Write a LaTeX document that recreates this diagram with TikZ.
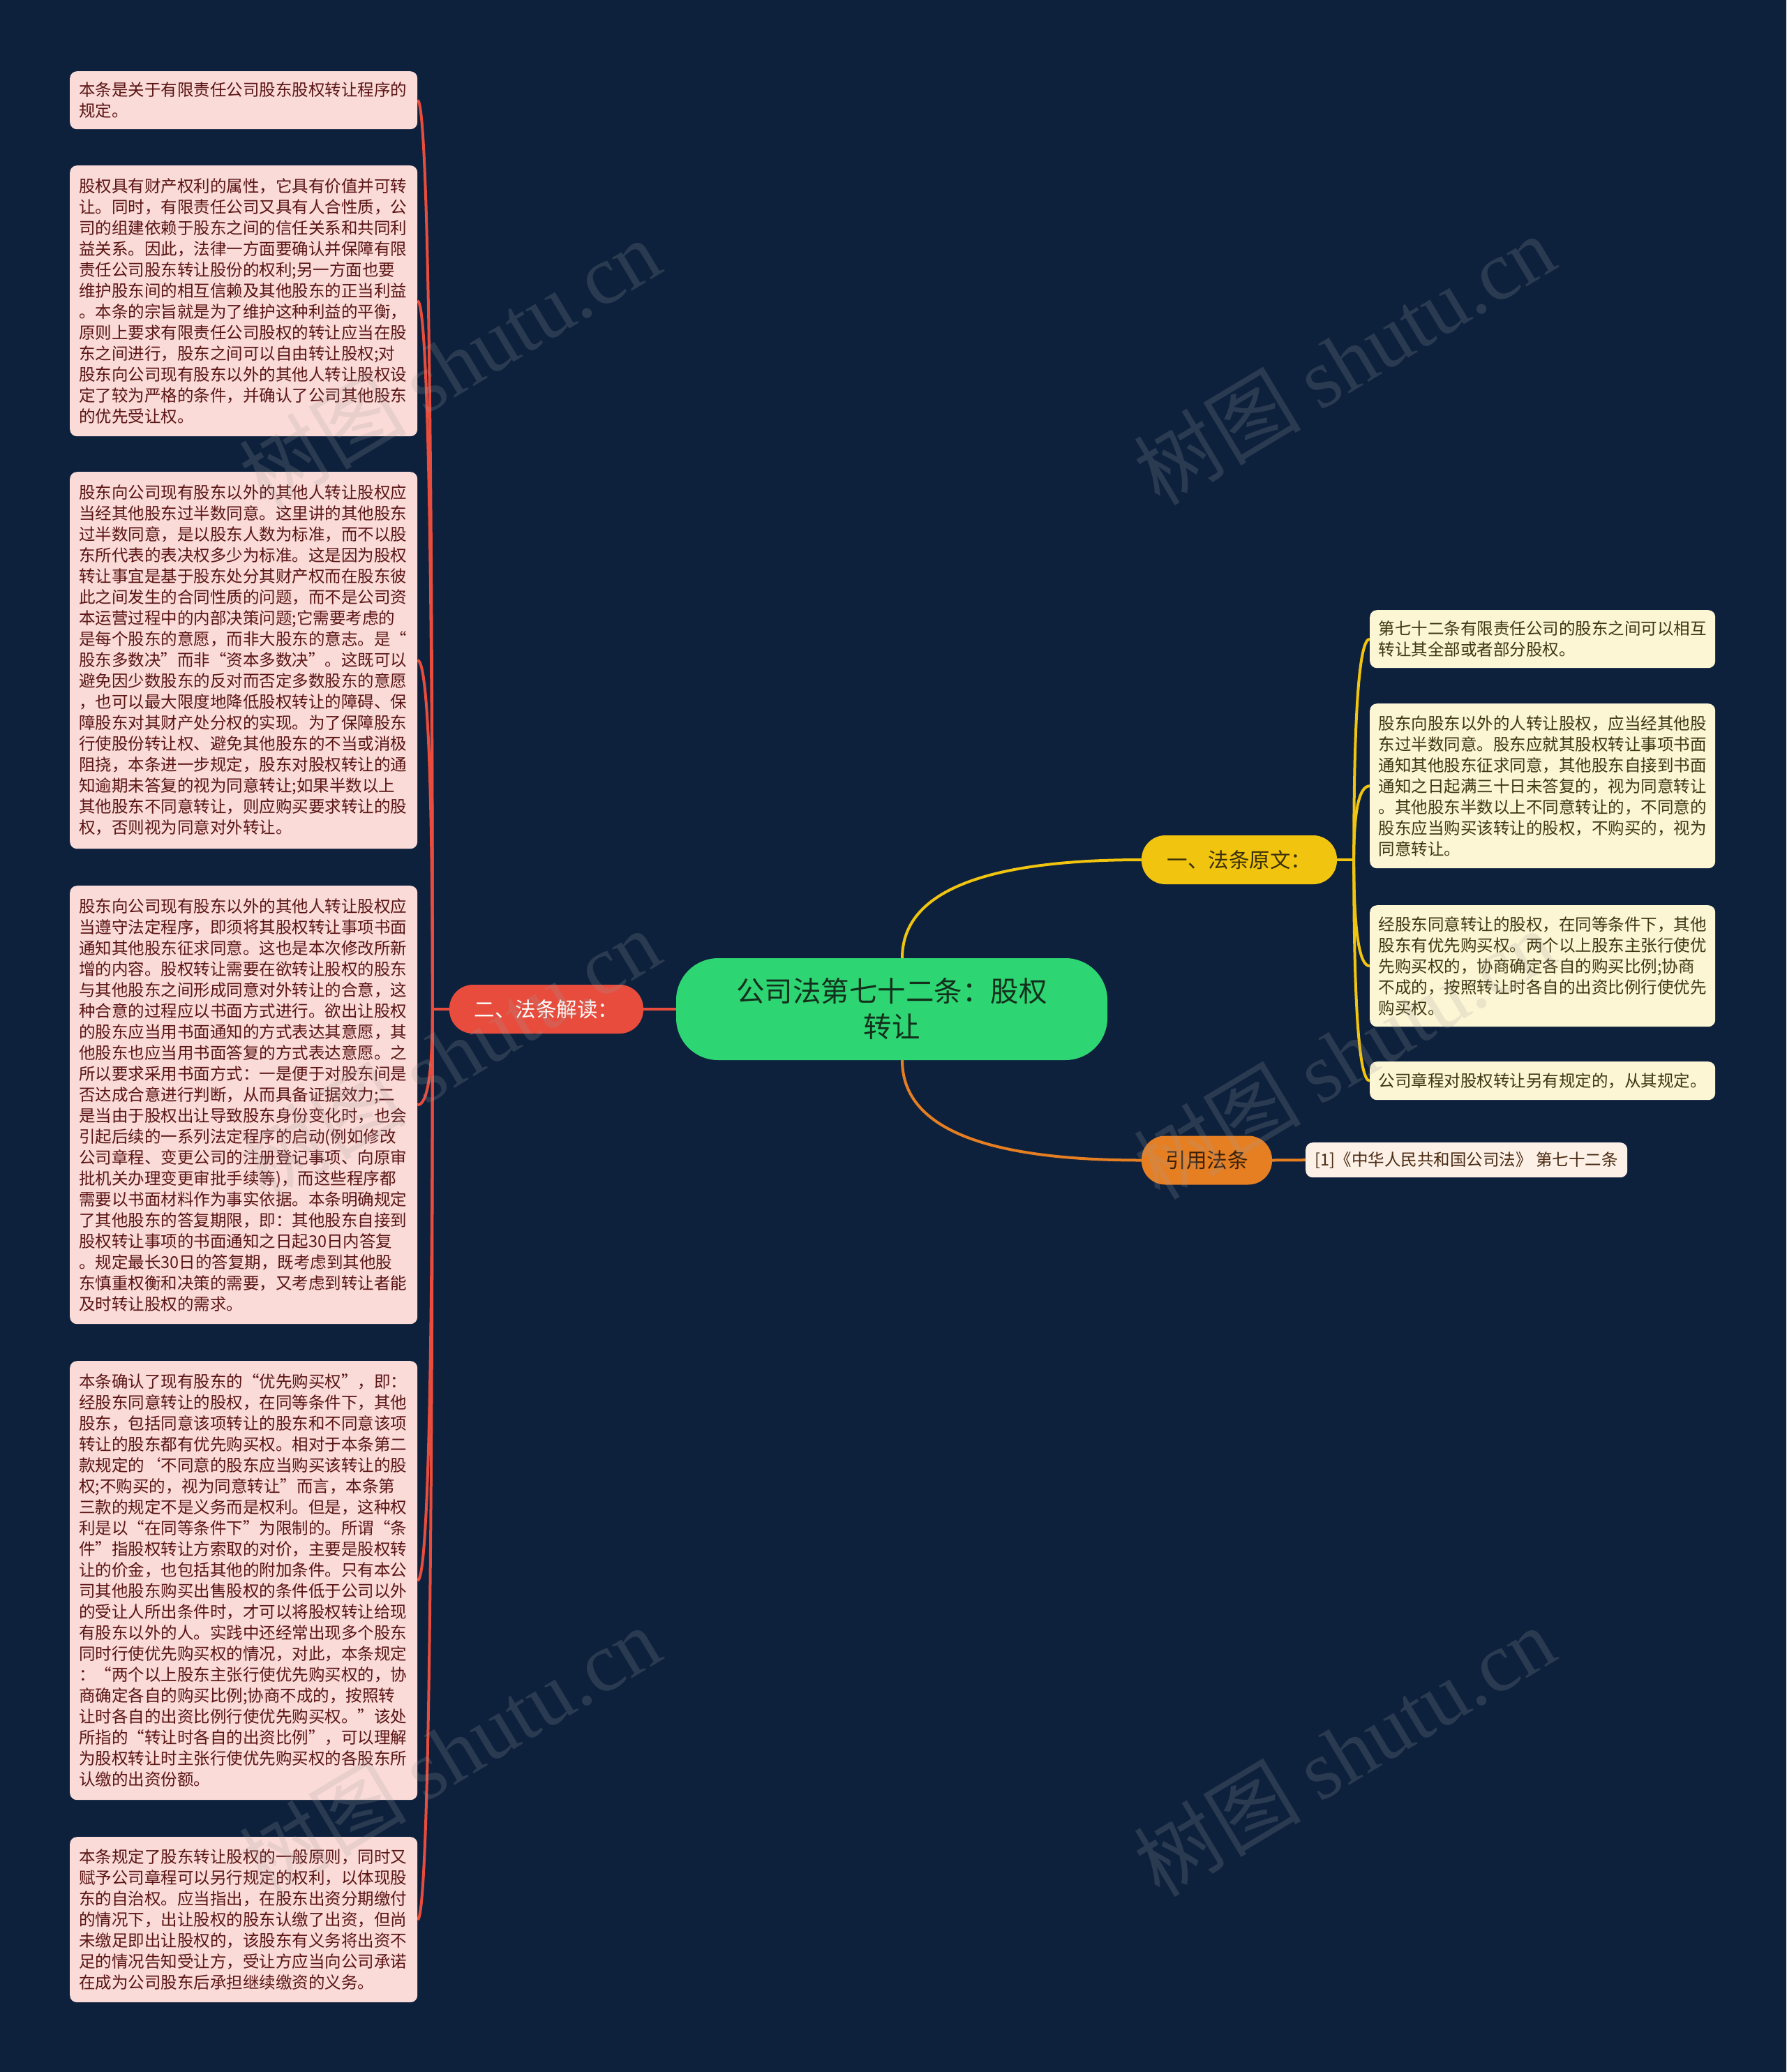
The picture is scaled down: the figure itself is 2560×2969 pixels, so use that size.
\documentclass[tikz,border=0pt]{standalone}
\usepackage{fontspec}
\setmainfont{Noto Sans CJK SC}
\newfontfamily\wmlatin{Liberation Serif}
\usetikzlibrary{calc}
\definecolor{bgc}{HTML}{0D213D}
\definecolor{lpink}{HTML}{FADBD8}
\definecolor{ltext}{HTML}{5A1414}
\definecolor{rcream}{HTML}{FDF6D5}
\definecolor{rtext}{HTML}{3E3712}
\definecolor{cpeach}{HTML}{FDF0E6}
\definecolor{ctxt}{HTML}{4A2A12}
\definecolor{cgreen}{HTML}{2ED573}
\definecolor{gtext}{HTML}{12301C}
\definecolor{cred}{HTML}{E74C3C}
\definecolor{cyellow}{HTML}{F1C40F}
\definecolor{ytext}{HTML}{3A3008}
\definecolor{corange}{HTML}{E67E22}
\definecolor{otext}{HTML}{3A2008}
\definecolor{wmgray}{HTML}{A0A0A0}
\pgfdeclarelayer{back}
\pgfsetlayers{back,main}
\tikzset{
  leafL/.style={fill=lpink, rounded corners=10pt, text=ltext, inner xsep=13pt, inner ysep=0pt,
    text width=472pt, align=left, anchor=north west, font=\fontsize{23.5}{30}\selectfont},
  leafR/.style={fill=rcream, rounded corners=10pt, text=rtext, inner xsep=12.5pt, inner ysep=0pt,
    text width=470pt, align=left, anchor=north west, font=\fontsize{23.5}{30}\selectfont},
  citebox/.style={fill=cpeach, rounded corners=10pt, text=ctxt, inner xsep=12pt, inner ysep=0pt,
    minimum width=461pt, minimum height=50pt, anchor=north west, font=\fontsize{23.5}{30}\selectfont},
  branch/.style={rounded corners=34pt, inner sep=0pt, minimum height=70pt, font=\fontsize{29.5}{34}\selectfont},
  rootbox/.style={fill=cgreen, rounded corners=60pt, minimum width=618pt, minimum height=146pt,
    inner sep=0pt, align=center, text=gtext, font=\fontsize{40.5}{51}\selectfont},
  redline/.style={draw=cred, line width=4pt},
  yline/.style={draw=cyellow, line width=4pt},
  oline/.style={draw=corange, line width=4pt},
  wm/.style={text=wmgray, text opacity=0.2, rotate=31, font=\fontsize{120}{120}\selectfont},
}
\begin{document}
\begin{tikzpicture}[x=1pt,y=-1pt]
\useasboundingbox (0,0) rectangle (2560,2969);

% root and branches
\node[rootbox] (root) at (1278,1446) {公司法第七十二条：股权\\转让};
\node[branch, fill=cred, text=white, minimum width=278pt] (B2) at (783,1446) {二、法条解读：};
\node[branch, fill=cyellow, text=ytext, minimum width=280pt] (B1) at (1776,1232) {一、法条原文：};
\node[branch, fill=corange, text=otext, minimum width=187pt] (B3) at (1729.5,1662.5) {引用法条};

% left leaves
\node[leafL, minimum height=83pt] (L1) at (100,102) {本条是关于有限责任公司股东股权转让程序的\\规定。};
\node[leafL, minimum height=388pt] (L2) at (100,237) {股权具有财产权利的属性，它具有价值并可转\\让。同时，有限责任公司又具有人合性质，公\\司的组建依赖于股东之间的信任关系和共同利\\益关系。因此，法律一方面要确认并保障有限\\责任公司股东转让股份的权利;另一方面也要\\维护股东间的相互信赖及其他股东的正当利益\\。本条的宗旨就是为了维护这种利益的平衡，\\原则上要求有限责任公司股权的转让应当在股\\东之间进行，股东之间可以自由转让股权;对\\股东向公司现有股东以外的其他人转让股权设\\定了较为严格的条件，并确认了公司其他股东\\的优先受让权。};
\node[leafL, minimum height=540pt] (L3) at (100,676) {股东向公司现有股东以外的其他人转让股权应\\当经其他股东过半数同意。这里讲的其他股东\\过半数同意，是以股东人数为标准，而不以股\\东所代表的表决权多少为标准。这是因为股权\\转让事宜是基于股东处分其财产权而在股东彼\\此之间发生的合同性质的问题，而不是公司资\\本运营过程中的内部决策问题;它需要考虑的\\是每个股东的意愿，而非大股东的意志。是“\\股东多数决”而非“资本多数决”。这既可以\\避免因少数股东的反对而否定多数股东的意愿\\，也可以最大限度地降低股权转让的障碍、保\\障股东对其财产处分权的实现。为了保障股东\\行使股份转让权、避免其他股东的不当或消极\\阻挠，本条进一步规定，股东对股权转让的通\\知逾期未答复的视为同意转让;如果半数以上\\其他股东不同意转让，则应购买要求转让的股\\权，否则视为同意对外转让。};
\node[leafL, minimum height=628pt] (L4) at (100,1269) {股东向公司现有股东以外的其他人转让股权应\\当遵守法定程序，即须将其股权转让事项书面\\通知其他股东征求同意。这也是本次修改所新\\增的内容。股权转让需要在欲转让股权的股东\\与其他股东之间形成同意对外转让的合意，这\\种合意的过程应以书面方式进行。欲出让股权\\的股东应当用书面通知的方式表达其意愿，其\\他股东也应当用书面答复的方式表达意愿。之\\所以要求采用书面方式：一是便于对股东间是\\否达成合意进行判断，从而具备证据效力;二\\是当由于股权出让导致股东身份变化时，也会\\引起后续的一系列法定程序的启动(例如修改\\公司章程、变更公司的注册登记事项、向原审\\批机关办理变更审批手续等)，而这些程序都\\需要以书面材料作为事实依据。本条明确规定\\了其他股东的答复期限，即：其他股东自接到\\股权转让事项的书面通知之日起30日内答复\\。规定最长30日的答复期，既考虑到其他股\\东慎重权衡和决策的需要，又考虑到转让者能\\及时转让股权的需求。};
\node[leafL, minimum height=629pt] (L5) at (100,1950) {本条确认了现有股东的“优先购买权”，即：\\经股东同意转让的股权，在同等条件下，其他\\股东，包括同意该项转让的股东和不同意该项\\转让的股东都有优先购买权。相对于本条第二\\款规定的‘不同意的股东应当购买该转让的股\\权;不购买的，视为同意转让”而言，本条第\\三款的规定不是义务而是权利。但是，这种权\\利是以“在同等条件下”为限制的。所谓“条\\件”指股权转让方索取的对价，主要是股权转\\让的价金，也包括其他的附加条件。只有本公\\司其他股东购买出售股权的条件低于公司以外\\的受让人所出条件时，才可以将股权转让给现\\有股东以外的人。实践中还经常出现多个股东\\同时行使优先购买权的情况，对此，本条规定\\：“两个以上股东主张行使优先购买权的，协\\商确定各自的购买比例;协商不成的，按照转\\让时各自的出资比例行使优先购买权。”该处\\所指的“转让时各自的出资比例”，可以理解\\为股权转让时主张行使优先购买权的各股东所\\认缴的出资份额。};
\node[leafL, minimum height=237pt] (L6) at (100,2632) {本条规定了股东转让股权的一般原则，同时又\\赋予公司章程可以另行规定的权利，以体现股\\东的自治权。应当指出，在股东出资分期缴付\\的情况下，出让股权的股东认缴了出资，但尚\\未缴足即出让股权的，该股东有义务将出资不\\足的情况告知受让方，受让方应当向公司承诺\\在成为公司股东后承担继续缴资的义务。};

% right leaves
\node[leafR, minimum height=83pt] (R1) at (1963,874) {第七十二条有限责任公司的股东之间可以相互\\转让其全部或者部分股权。};
\node[leafR, minimum height=236pt] (R2) at (1963,1008) {股东向股东以外的人转让股权，应当经其他股\\东过半数同意。股东应就其股权转让事项书面\\通知其他股东征求同意，其他股东自接到书面\\通知之日起满三十日未答复的，视为同意转让\\。其他股东半数以上不同意转让的，不同意的\\股东应当购买该转让的股权，不购买的，视为\\同意转让。};
\node[leafR, minimum height=174pt] (R3) at (1963,1297) {经股东同意转让的股权，在同等条件下，其他\\股东有优先购买权。两个以上股东主张行使优\\先购买权的，协商确定各自的购买比例;协商\\不成的，按照转让时各自的出资比例行使优先\\购买权。};
\node[leafR, minimum height=55pt] (R4) at (1963,1521) {公司章程对股权转让另有规定的，从其规定。};

% citation
\node[citebox] (C1) at (1871,1637) {[1]《中华人民共和国公司法》 第七十二条};

% watermarks
\node[wm] (w1) at (644,521) {树图 {\wmlatin shutu.cn}};
\node[wm] (w2) at (1926,515) {树图 {\wmlatin shutu.cn}};
\node[wm] (w3) at (644,1510) {树图 {\wmlatin shutu.cn}};
\node[wm] (w4) at (1926,1510) {树图 {\wmlatin shutu.cn}};
\node[wm] (w5) at (644,2509) {树图 {\wmlatin shutu.cn}};
\node[wm] (w6) at (1926,2509) {树图 {\wmlatin shutu.cn}};

\begin{pgfonlayer}{back}
\fill[bgc] (0,0) rectangle (2560,2969);
% root to branches
\draw[redline] (root.west) -- (B2.east);
\coordinate (s1) at ($(root.north)+(15,0)$);
\coordinate (k1) at (s1 |- B1.west);
\draw[yline] (s1) .. controls ($(s1)!0.667!(k1)$) and ($(B1.west)!0.667!(k1)$) .. (B1.west);
\coordinate (s3) at ($(root.south)+(15,0)$);
\coordinate (k3) at (s3 |- B3.west);
\draw[oline] (s3) .. controls ($(s3)!0.667!(k3)$) and ($(B3.west)!0.667!(k3)$) .. (B3.west);
% left fan
\coordinate (jl) at ($(B2.west)+(-24,0)$);
\draw[redline] (B2.west) -- (jl);
\foreach \n in {L1,L2,L3,L4,L5,L6} {
  \coordinate (k\n) at (jl |- \n.east);
  \draw[redline] (jl) .. controls ($(jl)!0.667!(k\n)$) and ($(\n.east)!0.667!(k\n)$) .. (\n.east);
}
% right fan
\coordinate (jr) at ($(B1.east)+(24,0)$);
\draw[yline] (B1.east) -- (jr);
\foreach \n in {R1,R2,R3,R4} {
  \coordinate (k\n) at (jr |- \n.west);
  \draw[yline] (jr) .. controls ($(jr)!0.667!(k\n)$) and ($(\n.west)!0.667!(k\n)$) .. (\n.west);
}
% citation
\draw[oline] (B3.east) -- (C1.west);
\end{pgfonlayer}
\end{tikzpicture}
\end{document}
